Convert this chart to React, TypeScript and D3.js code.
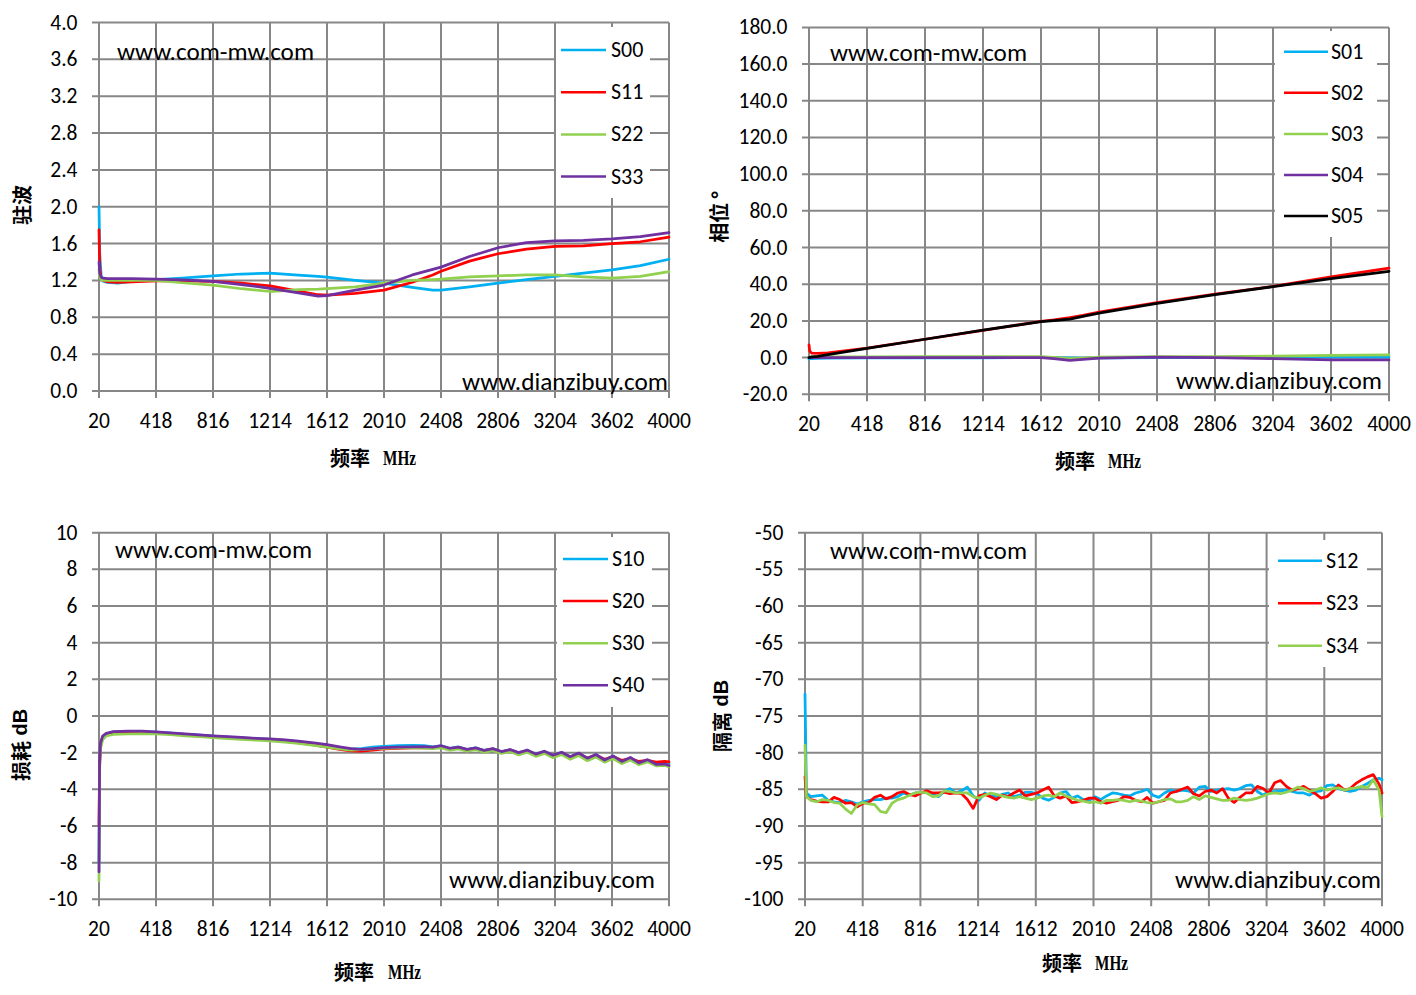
import React from 'react';
import * as d3 from 'd3';

// ---------- shared axis ----------
const FREQ_TICKS = [20, 418, 816, 1214, 1612, 2010, 2408, 2806, 3204, 3602, 4000];

// ---------- VSWR (驻波) ----------
const vswrFreq = [20, 25, 35, 50, 80, 150, 250, 418, 600, 816, 1014, 1214, 1412, 1550, 1612, 1810, 2010, 2208, 2350, 2408, 2607, 2806, 3005, 3204, 3403, 3602, 3800, 4000];
const S00 = [2.0, 1.5, 1.25, 1.19, 1.18, 1.17, 1.19, 1.21, 1.225, 1.25, 1.27, 1.28, 1.257, 1.245, 1.235, 1.2, 1.17, 1.124, 1.095, 1.095, 1.13, 1.17, 1.21, 1.245, 1.28, 1.315, 1.36, 1.43];
const S11 = [1.75, 1.35, 1.22, 1.2, 1.185, 1.18, 1.185, 1.195, 1.195, 1.19, 1.17, 1.14, 1.085, 1.045, 1.04, 1.06, 1.095, 1.18, 1.26, 1.3, 1.41, 1.49, 1.54, 1.57, 1.575, 1.6, 1.62, 1.67];
const S22 = [1.32, 1.24, 1.21, 1.2, 1.2, 1.2, 1.2, 1.2, 1.175, 1.15, 1.11, 1.08, 1.1, 1.105, 1.11, 1.13, 1.17, 1.2, 1.21, 1.215, 1.24, 1.25, 1.26, 1.26, 1.24, 1.225, 1.245, 1.295];
const S33 = [1.4, 1.28, 1.235, 1.225, 1.22, 1.22, 1.22, 1.215, 1.205, 1.19, 1.155, 1.115, 1.065, 1.03, 1.035, 1.095, 1.15, 1.26, 1.32, 1.345, 1.46, 1.555, 1.61, 1.63, 1.635, 1.65, 1.675, 1.72];
const vswrTicks = [0, 0.4, 0.8, 1.2, 1.6, 2.0, 2.4, 2.8, 3.2, 3.6, 4.0];

// ---------- Phase (相位) ----------
const phaseFreq = [20, 25, 40, 80, 150, 418, 816, 1214, 1612, 1700, 1810, 1900, 2010, 2408, 2806, 3204, 3602, 4000];
const S01 = [-0.8, -0.6, -0.5, -0.4, -0.3, -0.2, -0.2, -0.1, 0, 0, -0.2, -0.3, -0.2, 0, 0, 0.2, 0.2, 0.2];
const S02 = [7, 3.5, 2.4, 2.3, 2.6, 5.2, 10.0, 14.8, 19.8, 20.6, 21.8, 23.0, 24.8, 30.0, 34.6, 38.8, 44.0, 48.8];
const S03 = [0.3, 0.3, 0.4, 0.4, 0.4, 0.4, 0.5, 0.6, 0.6, 0.1, -0.6, -0.3, 0.2, 0.5, 0.6, 0.8, 1.2, 1.5];
const S04 = [0, 0, 0, 0, 0, 0, 0, 0, 0, -0.6, -1.5, -1.0, -0.3, 0.3, 0, -0.5, -1.2, -1.3];
const S05 = [0, 0.1, 0.4, 0.7, 1.6, 5.0, 10.0, 15.0, 19.6, 20.2, 21.0, 22.5, 24.2, 29.6, 34.3, 38.7, 43.0, 47.0];
const phaseTicks = [-20, 0, 20, 40, 60, 80, 100, 120, 140, 160, 180];

// ---------- Loss (损耗) ----------
const lossFreq = [20, 24, 30, 45, 70, 120, 220, 320, 418, 520,
  620, 720, 816, 920, 1014, 1120, 1214, 1320, 1412, 1520,
  1612, 1700, 1780, 1850, 1930, 2010, 2110, 2208, 2290, 2350,
  2410, 2470, 2530, 2590, 2650, 2710, 2770, 2830, 2890, 2950,
  3010, 3070, 3130, 3190, 3250, 3310, 3370, 3430, 3490, 3550,
  3610, 3670, 3730, 3790, 3850, 3910, 3970, 4000];
const S10 = [-8.0, -2.6, -1.6, -1.15, -0.98, -0.88, -0.85, -0.86, -0.88, -0.94,
  -1.0, -1.05, -1.1, -1.15, -1.19, -1.24, -1.27, -1.33, -1.4, -1.5,
  -1.6, -1.72, -1.8, -1.78, -1.7, -1.66, -1.62, -1.6, -1.62, -1.68,
  -1.63, -1.77, -1.69, -1.83, -1.74, -1.88, -1.79, -1.95, -1.84, -2.01,
  -1.88, -2.08, -1.93, -2.15, -1.99, -2.22, -2.04, -2.32, -2.12, -2.4,
  -2.2, -2.46, -2.3, -2.52, -2.42, -2.58, -2.55, -2.6];
const S20 = [-6.0, -2.8, -1.7, -1.2, -1.0, -0.92, -0.9, -0.9, -0.92, -0.98,
  -1.04, -1.1, -1.14, -1.19, -1.23, -1.28, -1.32, -1.39, -1.47, -1.58,
  -1.7, -1.82, -1.9, -1.92, -1.86, -1.8, -1.76, -1.74, -1.72, -1.74,
  -1.68, -1.8, -1.72, -1.85, -1.76, -1.9, -1.8, -1.96, -1.86, -2.02,
  -1.9, -2.1, -1.96, -2.16, -2.02, -2.24, -2.08, -2.3, -2.14, -2.36,
  -2.22, -2.42, -2.32, -2.48, -2.42, -2.52, -2.48, -2.5];
const S30 = [-9.0, -3.0, -1.8, -1.3, -1.08, -1.0, -0.97, -0.96, -0.97, -1.02,
  -1.08, -1.13, -1.18, -1.23, -1.27, -1.32, -1.36, -1.42, -1.5, -1.6,
  -1.7, -1.8, -1.86, -1.84, -1.8, -1.76, -1.74, -1.74, -1.75, -1.78,
  -1.74, -1.86, -1.8, -1.92, -1.84, -1.98, -1.88, -2.04, -1.94, -2.12,
  -1.98, -2.2, -2.04, -2.28, -2.1, -2.36, -2.16, -2.44, -2.24, -2.52,
  -2.32, -2.6, -2.4, -2.66, -2.5, -2.72, -2.7, -2.76];
const S40 = [-8.5, -2.5, -1.5, -1.1, -0.95, -0.85, -0.82, -0.83, -0.86, -0.92,
  -0.98, -1.03, -1.08, -1.13, -1.17, -1.22, -1.25, -1.3, -1.37, -1.46,
  -1.56, -1.68, -1.78, -1.82, -1.78, -1.72, -1.7, -1.68, -1.67, -1.7,
  -1.62, -1.76, -1.7, -1.82, -1.74, -1.88, -1.78, -1.94, -1.83, -2.0,
  -1.86, -2.08, -1.92, -2.14, -1.98, -2.22, -2.02, -2.3, -2.1, -2.4,
  -2.18, -2.48, -2.26, -2.56, -2.38, -2.64, -2.62, -2.7];
const lossTicks = [-10, -8, -6, -4, -2, 0, 2, 4, 6, 8, 10];

// ---------- Isolation (隔离) ----------
const isoFreq = [20, 30, 60, 100, 140, 180, 220, 260, 300, 340,
  380, 420, 460, 500, 540, 580, 620, 660, 700, 740,
  780, 820, 860, 900, 940, 980, 1020, 1060, 1100, 1140,
  1180, 1220, 1260, 1300, 1340, 1380, 1420, 1460, 1500, 1540,
  1580, 1620, 1660, 1700, 1740, 1780, 1820, 1860, 1900, 1940,
  1980, 2020, 2060, 2100, 2140, 2180, 2220, 2260, 2300, 2340,
  2380, 2420, 2460, 2500, 2540, 2580, 2620, 2660, 2700, 2740,
  2780, 2820, 2860, 2900, 2940, 2980, 3020, 3060, 3100, 3140,
  3180, 3220, 3260, 3300, 3340, 3380, 3420, 3460, 3500, 3540,
  3580, 3620, 3660, 3700, 3740, 3780, 3820, 3860, 3900, 3940,
  3980, 4000];
const S12 = [-72.0, -85.5, -86.0, -85.9, -85.8, -86.5, -86.7, -86.8, -86.5, -86.7,
  -87.0, -86.7, -86.5, -86.4, -86.4, -86.2, -86.2, -86.0, -85.5, -85.8,
  -85.5, -85.5, -85.4, -85.6, -86.0, -85.3, -84.9, -85.5, -85.2, -84.7,
  -85.9, -86.5, -85.5, -85.9, -86.0, -85.7, -85.5, -86.0, -85.8, -85.4,
  -85.4, -85.6, -86.2, -86.5, -86.1, -85.5, -85.3, -86.2, -85.9, -86.4,
  -86.5, -86.0, -86.4, -85.9, -85.5, -85.6, -85.8, -85.9, -85.5, -85.3,
  -85.0, -85.8, -86.1, -85.5, -85.1, -85.3, -85.1, -85.2, -85.5, -84.7,
  -84.6, -85.3, -85.1, -85.0, -84.9, -85.1, -84.9, -84.5, -84.4, -85.3,
  -85.8, -85.3, -85.3, -85.2, -85.1, -85.3, -85.5, -85.5, -85.8, -85.3,
  -85.2, -84.5, -84.4, -84.9, -85.1, -85.3, -85.1, -84.6, -84.2, -83.7,
  -83.5, -83.7];
const S23 = [-83.3, -86.0, -86.4, -86.6, -86.7, -86.7, -86.1, -86.4, -86.9, -86.8,
  -87.4, -86.9, -86.8, -86.1, -85.8, -86.3, -86.0, -85.5, -85.3, -85.7,
  -85.9, -85.5, -85.2, -85.5, -85.5, -85.4, -85.6, -85.5, -85.6, -86.4,
  -87.6, -85.9, -85.7, -86.0, -86.4, -85.8, -86.0, -85.5, -85.1, -85.9,
  -85.7, -85.5, -85.1, -84.7, -85.9, -86.2, -85.9, -86.8, -86.7, -86.5,
  -86.2, -86.2, -86.7, -86.9, -86.7, -86.5, -86.0, -86.1, -86.5, -86.7,
  -86.1, -86.9, -86.7, -86.5, -85.5, -85.3, -85.0, -84.7, -85.6, -85.9,
  -85.3, -85.1, -85.5, -84.9, -86.2, -86.8, -86.1, -85.5, -85.5, -84.6,
  -84.9, -85.5, -84.1, -83.8, -84.6, -85.1, -84.9, -84.6, -85.1, -85.6,
  -86.2, -86.0, -85.3, -84.4, -85.1, -84.9, -84.2, -83.7, -83.3, -83.0,
  -84.3, -85.5];
const S34 = [-79.0, -86.0, -86.5, -86.7, -86.4, -86.5, -86.8, -86.9, -87.7, -88.3,
  -87.1, -86.8, -87.0, -87.1, -88.0, -88.2, -86.9, -86.4, -86.2, -85.8,
  -85.5, -85.4, -85.5, -86.0, -85.9, -85.2, -85.3, -85.5, -85.5, -85.5,
  -86.0, -86.2, -85.8, -85.5, -85.7, -85.9, -86.1, -86.2, -86.0, -86.2,
  -86.4, -86.2, -85.9, -85.8, -86.0, -85.5, -85.9, -86.2, -86.5, -86.6,
  -86.8, -86.7, -86.9, -86.5, -86.5, -86.4, -86.5, -86.7, -86.5, -86.6,
  -86.8, -86.9, -86.7, -86.4, -86.3, -86.7, -86.7, -86.5, -86.0, -86.4,
  -85.9, -86.1, -86.3, -86.5, -86.5, -86.2, -86.4, -86.5, -86.4, -86.2,
  -85.9, -85.6, -85.5, -85.6, -85.4, -85.1, -84.7, -84.9, -85.3, -85.1,
  -84.8, -85.1, -84.9, -84.8, -85.1, -84.9, -84.8, -84.6, -84.8, -83.7,
  -85.1, -88.7];
const isoTicks = [-100, -95, -90, -85, -80, -75, -70, -65, -60, -55, -50];

// ---------- styling ----------
const BLUE = '#00B0F0';
const RED = '#FF0000';
const GREEN = '#92D050';
const PURPLE = '#7030A0';
const BLACK = '#000000';
const GRID = '#878787';
const NUM_FONT = "Carlito, 'Liberation Sans', Arial, sans-serif";
const CJK_FONT = "'Noto Sans CJK SC', sans-serif";

type SeriesDef = { name: string; color: string; values: number[] };
type PanelDef = {
  left: number; right: number; top: number; bottom: number;
  yDomain: [number, number]; yTicks: number[]; fmt: (v: number) => string;
  freq: number[]; series: SeriesDef[];
  legend: { x: number; y: number; w: number; h: number; first: number; step: number; l1: number; l2: number; tx: number };
  xTitle: { x1: number; x2: number; y: number };
  yTitle: { x: number; y: number; cjk: string; unit: string; unitFont: string };
  wm1: { x: number; y: number }; wm2: { x: number; y: number };
};

const fmt1 = (v: number) => v.toFixed(1);
const fmt0 = (v: number) => String(v);

const panels: PanelDef[] = [
  {
    left: 99, right: 669, top: 22.5, bottom: 391,
    yDomain: [0, 4], yTicks: vswrTicks, fmt: fmt1, freq: vswrFreq,
    series: [
      { name: 'S00', color: BLUE, values: S00 },
      { name: 'S11', color: RED, values: S11 },
      { name: 'S22', color: GREEN, values: S22 },
      { name: 'S33', color: PURPLE, values: S33 },
    ],
    legend: { x: 556, y: 27, w: 94, h: 171, first: 50, step: 42.2, l1: 561, l2: 606, tx: 611 },
    xTitle: { x1: 330, x2: 383, y: 466 },
    yTitle: { x: 21, y: 205, cjk: '驻波', unit: '', unitFont: NUM_FONT },
    wm1: { x: 117, y: 60 }, wm2: { x: 462, y: 390 },
  },
  {
    left: 809, right: 1389, top: 27.4, bottom: 394.3,
    yDomain: [-20, 180], yTicks: phaseTicks, fmt: fmt1, freq: phaseFreq,
    series: [
      { name: 'S01', color: BLUE, values: S01 },
      { name: 'S02', color: RED, values: S02 },
      { name: 'S03', color: GREEN, values: S03 },
      { name: 'S04', color: PURPLE, values: S04 },
      { name: 'S05', color: BLACK, values: S05 },
    ],
    legend: { x: 1275, y: 31, w: 102, h: 206, first: 51.7, step: 41.1, l1: 1284, l2: 1328, tx: 1331 },
    xTitle: { x1: 1055, x2: 1108, y: 469 },
    yTitle: { x: 718, y: 217, cjk: '相位', unit: ' °', unitFont: NUM_FONT },
    wm1: { x: 830, y: 61 }, wm2: { x: 1176, y: 389 },
  },
  {
    left: 99, right: 669, top: 532.7, bottom: 899.3,
    yDomain: [-10, 10], yTicks: lossTicks, fmt: fmt0, freq: lossFreq,
    series: [
      { name: 'S10', color: BLUE, values: S10 },
      { name: 'S20', color: RED, values: S20 },
      { name: 'S30', color: GREEN, values: S30 },
      { name: 'S40', color: PURPLE, values: S40 },
    ],
    legend: { x: 557, y: 537, w: 95, h: 170, first: 559, step: 42.1, l1: 563, l2: 608, tx: 612 },
    xTitle: { x1: 334, x2: 388, y: 980 },
    yTitle: { x: 20, y: 745, cjk: '损耗', unit: ' dB', unitFont: "'Liberation Sans', Arial, sans-serif" },
    wm1: { x: 115, y: 558 }, wm2: { x: 449, y: 888 },
  },
  {
    left: 805, right: 1382, top: 532.7, bottom: 899.3,
    yDomain: [-100, -50], yTicks: isoTicks, fmt: fmt0, freq: isoFreq,
    series: [
      { name: 'S12', color: BLUE, values: S12 },
      { name: 'S23', color: RED, values: S23 },
      { name: 'S34', color: GREEN, values: S34 },
    ],
    legend: { x: 1269, y: 540, w: 98, h: 127, first: 560.7, step: 42.5, l1: 1278, l2: 1322, tx: 1326 },
    xTitle: { x1: 1042, x2: 1095, y: 971 },
    yTitle: { x: 721, y: 716, cjk: '隔离', unit: ' dB', unitFont: "'Liberation Sans', Arial, sans-serif" },
    wm1: { x: 830, y: 559 }, wm2: { x: 1175, y: 888 },
  },
];

function Panel({ p }: { p: PanelDef }) {
  const x = d3.scaleLinear().domain([20, 4000]).range([p.left, p.right]);
  const y = d3.scaleLinear().domain(p.yDomain).range([p.bottom, p.top]);
  const n = p.freq.length;
  const lineGen = d3
    .line<number>()
    .x((_, i) => x(p.freq[i]))
    .y((v) => y(v));
  const lg = p.legend;
  return (
    <g>
      {p.yTicks.map((t) => (
        <line key={'h' + t} x1={p.left - 7} x2={p.right} y1={y(t)} y2={y(t)} stroke={GRID} strokeWidth={2} />
      ))}
      {FREQ_TICKS.map((t) => (
        <line key={'v' + t} x1={x(t)} x2={x(t)} y1={p.top} y2={p.bottom + 7} stroke={GRID} strokeWidth={2} />
      ))}
      {p.series.map((s) => (
        <path
          key={s.name}
          d={lineGen(s.values.slice(0, n)) || ''}
          fill="none"
          stroke={s.color}
          strokeWidth={2.75}
          strokeLinejoin="round"
          strokeLinecap="round"
        />
      ))}
      <rect x={lg.x} y={lg.y} width={lg.w} height={lg.h} fill="#ffffff" />
      {p.series.map((s, i) => (
        <g key={'lg' + s.name}>
          <line x1={lg.l1} x2={lg.l2} y1={lg.first + i * lg.step} y2={lg.first + i * lg.step} stroke={s.color} strokeWidth={2.5} />
          <text x={lg.tx} y={lg.first + i * lg.step + 7} fontFamily={NUM_FONT} fontSize={22} fill="#000">
            {s.name}
          </text>
        </g>
      ))}
      {p.yTicks.map((t) => (
        <text key={'yl' + t} x={p.left - 21.5} y={y(t) + 7} textAnchor="end" fontFamily={NUM_FONT} fontSize={21.5} fill="#000">
          {p.fmt(t)}
        </text>
      ))}
      {FREQ_TICKS.map((t) => (
        <text key={'xl' + t} x={x(t)} y={p.bottom + 37} textAnchor="middle" fontFamily={NUM_FONT} fontSize={21.5} fill="#000">
          {t}
        </text>
      ))}
      <text x={p.wm1.x} y={p.wm1.y} fontFamily={NUM_FONT} fontSize={24.5} textLength={197} lengthAdjust="spacingAndGlyphs" fill="#000">
        www.com-mw.com
      </text>
      <text x={p.wm2.x} y={p.wm2.y} fontFamily={NUM_FONT} fontSize={24.5} textLength={206} lengthAdjust="spacingAndGlyphs" fill="#000">
        www.dianzibuy.com
      </text>
      <text x={p.xTitle.x1} y={p.xTitle.y} fontFamily={CJK_FONT} fontWeight="bold" fontSize={20} fill="#000">
        频率
      </text>
      <text
        x={p.xTitle.x2}
        y={p.xTitle.y - 1}
        fontFamily="'Liberation Serif', serif"
        fontWeight="bold"
        fontSize={20}
        textLength={33}
        lengthAdjust="spacingAndGlyphs"
        fill="#000"
      >
        MHz
      </text>
      <text
        transform={`translate(${p.yTitle.x},${p.yTitle.y}) rotate(-90)`}
        textAnchor="middle"
        dominantBaseline="central"
        fontWeight="bold"
        fontSize={20}
        fill="#000"
      >
        <tspan fontFamily={CJK_FONT}>{p.yTitle.cjk}</tspan>
        {p.yTitle.unit ? <tspan fontFamily={p.yTitle.unitFont}>{p.yTitle.unit}</tspan> : null}
      </text>
    </g>
  );
}

export default function App() {
  return (
    <svg
      width={1416}
      height={995}
      viewBox="0 0 1416 995"
      style={{ position: 'absolute', left: 0, top: 0, background: '#ffffff' }}
    >
      <rect x={0} y={0} width={1416} height={995} fill="#ffffff" />
      {panels.map((p, i) => (
        <Panel key={i} p={p} />
      ))}
    </svg>
  );
}
